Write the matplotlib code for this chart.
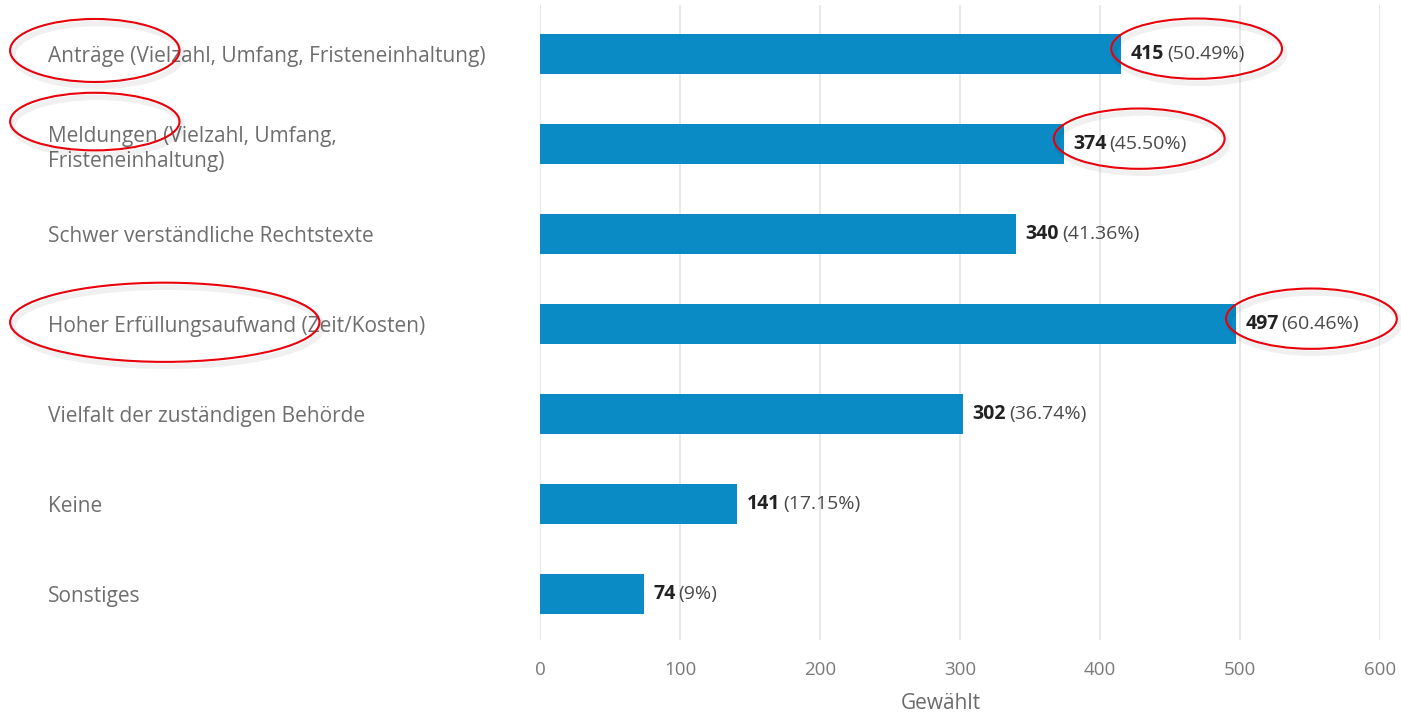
import matplotlib
matplotlib.use("Agg")
import matplotlib.pyplot as plt
from matplotlib.patches import Ellipse

plt.rcParams['font.family'] = ['Open Sans', 'DejaVu Sans']

categories = [
    "Anträge (Vielzahl, Umfang, Fristeneinhaltung)",
    "Meldungen (Vielzahl, Umfang,\nFristeneinhaltung)",
    "Schwer verständliche Rechtstexte",
    "Hoher Erfüllungsaufwand (Zeit/Kosten)",
    "Vielfalt der zuständigen Behörde",
    "Keine",
    "Sonstiges",
]
counts = [415, 374, 340, 497, 302, 141, 74]
shares = ["50.49%", "45.50%", "41.36%", "60.46%", "36.74%", "17.15%", "9%"]
xticks = [0, 100, 200, 300, 400, 500, 600]

# rows marked with a red circle (label side / value side)
marked_labels = [0, 1, 3]
marked_values = [0, 1, 3]

bar_color = "#0a8bc6"
label_color = "#6e6e6e"

fig = plt.figure(figsize=(14.01, 7.15), dpi=100)
ax = fig.add_axes([540 / 1401, 1 - 640 / 715, 840 / 1401, 635 / 715])

y = list(range(len(categories)))
ax.barh(y, counts, height=0.445, color=bar_color, zorder=2)

ax.set_xlim(0, 600)
ax.set_ylim(len(categories) - 0.49, -0.545)
ax.set_xticks(xticks)
ax.set_xticklabels([str(t) for t in xticks], color="#7a7a7a", fontsize=13.5)
ax.set_yticks(y)
ax.set_yticklabels(categories, ha="left", color=label_color, fontsize=15,
                   linespacing=1.3)
ax.tick_params(axis="y", length=0, pad=354)
ax.tick_params(axis="x", length=0, pad=15)
for s in ax.spines.values():
    s.set_visible(False)
ax.grid(axis="x", color="#e4e4e4", linewidth=1.2, zorder=0)
ax.set_axisbelow(True)
ax.set_xlabel("Gewählt", color="#6a6a6a", fontsize=15, va="center")
ax.xaxis.set_label_coords(0.477, -0.1)

# value labels: bold count followed by the share in brackets
for i, (c, p) in enumerate(zip(counts, shares)):
    t = ax.annotate(str(c), xy=(c, i), xytext=(7, 0), textcoords="offset points",
                    ha="left", va="center", fontsize=14, fontweight="bold",
                    color="#222222")
    ax.annotate(f"({p})", xy=(1, 0.5), xycoords=t, xytext=(2, 0),
                textcoords="offset points", ha="left", va="center",
                fontsize=14, color="#4a4a4a")

def ring(xc, yc, w, h):
    shadow = Ellipse((xc + 2, yc + 0.05), w, h, fill=False, edgecolor="#000000",
                     alpha=0.06, linewidth=4, clip_on=False, zorder=4)
    ax.add_patch(shadow)
    e = Ellipse((xc, yc), w, h, fill=False, edgecolor="#e8000b",
                linewidth=1.5, clip_on=False, zorder=5)
    ax.add_patch(e)

# circles around the y labels
ring(-318, marked_labels[0] - 0.04, 121, 0.70)
ring(-318, marked_labels[1] - 0.25, 121, 0.64)
ring(-268, marked_labels[2] - 0.02, 221, 0.88)

# circles around the value labels
for i in marked_values:
    ring(counts[i] + 54, i - 0.06, 122, 0.67)

fig.savefig("out.png", dpi=100, facecolor="white")
